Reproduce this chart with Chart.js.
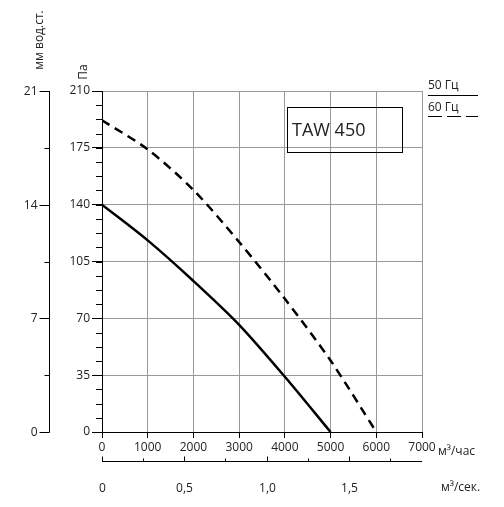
<!DOCTYPE html>
<html><head><meta charset="utf-8">
<script src="https://cdn.jsdelivr.net/npm/chart.js@4"></script>
<style>html,body{margin:0;padding:0;background:#fff}#wrap{width:504px;height:507px}</style>
</head><body><div id="wrap"><canvas id="fan"></canvas></div>
<script>
const flow = [0, 1000, 2000, 3000, 4000, 5000, 6000];
const pressure50 = [140, 118, 93, 66, 34, 0];
const pressure60 = [192, 174, 149, 117, 82, 44, 0];
const paTicks = [0, 35, 70, 105, 140, 175, 210];
const mmTicks = [0, 7, 14, 21];
const secTicks = [0, 0.5, 1.0, 1.5];
const secLabels = ['0', '0,5', '1,0', '1,5'];

const FONT = '"Open Sans", sans-serif';
const TXT = '#222';

const extraAxes = {
    id: 'extraAxes',
    afterDraw(chart) {
        const ctx = chart.ctx, x = chart.scales.x, y = chart.scales.y;
        const a = chart.chartArea;
        ctx.save();
        ctx.strokeStyle = '#000';
        ctx.fillStyle = TXT;
        ctx.lineWidth = 1;
        ctx.font = '12px ' + FONT;

        // minor ticks on Pa axis
        for (let v = 0; v <= 210; v += 8.75) {
            const py = Math.round(y.getPixelForValue(v)) + 0.5;
            ctx.beginPath(); ctx.moveTo(a.left - 6, py); ctx.lineTo(a.left, py); ctx.stroke();
        }

        // mm water axis
        const mx = 49.5;
        ctx.beginPath(); ctx.moveTo(mx, y.getPixelForValue(210)); ctx.lineTo(mx, y.getPixelForValue(0)); ctx.stroke();
        for (let v = 0; v <= 21; v += 3.5) {
            const py = Math.round(y.getPixelForValue(v * 10)) + 0.5;
            ctx.beginPath(); ctx.moveTo(mx - 5, py); ctx.lineTo(mx, py); ctx.stroke();
        }
        ctx.textAlign = 'right'; ctx.textBaseline = 'middle';
        mmTicks.forEach(v => {
            const py = Math.round(y.getPixelForValue(v * 10)) + 0.5;
            ctx.beginPath(); ctx.moveTo(mx - 10, py); ctx.lineTo(mx, py); ctx.stroke();
            ctx.fillText(String(v), mx - 12, py);
        });

        // axis titles
        ctx.save();
        ctx.translate(40, 40); ctx.rotate(-Math.PI / 2);
        ctx.textAlign = 'center'; ctx.fillText('мм вод.ст.', 0, 0);
        ctx.restore();
        ctx.save();
        ctx.translate(84, 72); ctx.rotate(-Math.PI / 2);
        ctx.textAlign = 'center'; ctx.fillText('Па', 0, 0);
        ctx.restore();

        // m3/s axis
        const sy = 461.5;
        ctx.beginPath(); ctx.moveTo(a.left, sy); ctx.lineTo(a.right, sy); ctx.stroke();
        ctx.textAlign = 'center'; ctx.textBaseline = 'top';
        secTicks.forEach((v, i) => {
            const px = Math.round(x.getPixelForValue(v * 3600)) + 0.5;
            ctx.beginPath(); ctx.moveTo(px, sy - 5); ctx.lineTo(px, sy); ctx.stroke();
            ctx.fillText(secLabels[i], px, sy + 21);
        });
        for (let v = 0.25; v < 1.95; v += 0.5) {
            const px = Math.round(x.getPixelForValue(v * 3600)) + 0.5;
            ctx.beginPath(); ctx.moveTo(px, sy - 3); ctx.lineTo(px, sy); ctx.stroke();
        }
        ctx.textAlign = 'left'; ctx.textBaseline = 'middle';
        ctx.fillText('м³/час', 438, 452);
        ctx.fillText('м³/сек.', 441, 488);

        // model box
        ctx.strokeRect(287.5, 107.5, 115, 45);
        ctx.font = '18px ' + FONT;
        ctx.fillText('TAW 450', 292, 131);

        // legend
        ctx.font = '12px ' + FONT;
        ctx.textBaseline = 'alphabetic';
        ctx.fillText('50 Гц', 428, 89);
        ctx.fillText('60 Гц', 428, 111);
        ctx.beginPath(); ctx.moveTo(428, 95.5); ctx.lineTo(478, 95.5); ctx.stroke();
        ctx.setLineDash([14, 5]);
        ctx.beginPath(); ctx.moveTo(428, 116.5); ctx.lineTo(478, 116.5); ctx.stroke();
        ctx.restore();
    }
};

new Chart(document.getElementById('fan'), {
    type: 'line',
    data: {
        datasets: [{
            label: '50 Гц',
            data: pressure50.map((p, i) => ({ x: flow[i], y: p })),
            borderColor: '#000', borderWidth: 2.5, pointRadius: 0, tension: 0.3
        }, {
            label: '60 Гц',
            data: pressure60.map((p, i) => ({ x: flow[i], y: p })),
            borderColor: '#000', borderWidth: 2.5, borderDash: [9, 6], pointRadius: 0, tension: 0.3
        }]
    },
    options: {
        responsive: true, maintainAspectRatio: false, animation: false,
        layout: { padding: { left: 62, top: 91, right: 82, bottom: 45 } },
        plugins: { legend: { display: false }, tooltip: { enabled: false } },
        scales: {
            x: {
                type: 'linear', min: 0, max: 7000,
                afterBuildTicks: s => { s.ticks = flow.concat([7000]).map(v => ({ value: v })); },
                afterFit: s => { s.height = 30; },
                grid: { color: '#999', tickColor: '#000', tickLength: 6 },
                border: { color: '#000', width: 1 },
                ticks: { color: TXT, font: { family: FONT, size: 12 }, maxRotation: 0, padding: 2, callback: v => String(v) }
            },
            y: {
                min: 0, max: 210,
                afterBuildTicks: s => { s.ticks = paTicks.map(v => ({ value: v })); },
                afterFit: s => { s.width = 40; },
                grid: { color: '#999', tickColor: '#000', tickLength: 10 },
                border: { color: '#000', width: 1 },
                ticks: { color: TXT, font: { family: FONT, size: 12 }, padding: 2, callback: v => String(v) }
            }
        }
    },
    plugins: [extraAxes]
});
</script></body></html>
